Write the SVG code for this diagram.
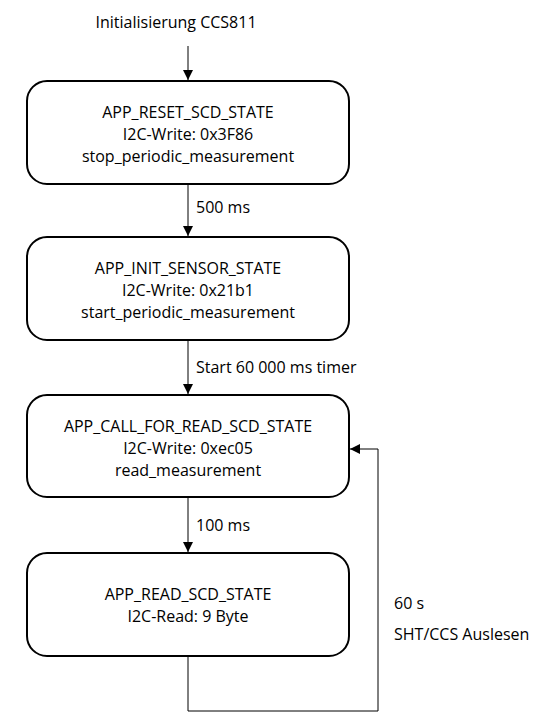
<svg xmlns="http://www.w3.org/2000/svg" width="540" height="726" viewBox="0 0 540 726">
<style>
text{font-family:"Open Sans","Liberation Sans",Arial,sans-serif;font-size:16px;fill:#000}
.c{text-anchor:middle}
.box{fill:#fff;stroke:#000;stroke-width:2}
.ln{fill:none;stroke:#000;stroke-width:1}
</style>
<defs>
<marker id="ah" viewBox="0 0 10 10" refX="10" refY="5" markerWidth="10" markerHeight="10" markerUnits="userSpaceOnUse" orient="auto">
<path d="M0,0 L10,5 L0,10 z" fill="#000"/>
</marker>
</defs>
<rect width="540" height="726" fill="#fff"/>
<text class="c" x="176" y="28">Initialisierung CCS811</text>
<g id="connectors">
<line class="ln" x1="188" y1="46" x2="188" y2="80" marker-end="url(#ah)"/>
<line class="ln" x1="188" y1="185" x2="188" y2="236" marker-end="url(#ah)"/>
<line class="ln" x1="188" y1="341" x2="188" y2="394" marker-end="url(#ah)"/>
<line class="ln" x1="188" y1="498" x2="188" y2="552" marker-end="url(#ah)"/>
<polyline class="ln" points="188,657 188,711 378,711 378,449 350,449" marker-end="url(#ah)"/>
<text x="196" y="213">500 ms</text>
<text x="196" y="373">Start 60 000 ms timer</text>
<text x="196" y="531">100 ms</text>
<text x="394" y="609">60 s</text>
<text x="394" y="640">SHT/CCS Auslesen</text>
</g>
<g id="reset">
<rect class="box" x="27" y="81" width="322" height="103" rx="20"/>
<text class="c" x="188" y="118">APP_RESET_SCD_STATE</text>
<text class="c" x="188" y="140">I2C-Write: 0x3F86</text>
<text class="c" x="188" y="162">stop_periodic_measurement</text>
</g>
<g id="init">
<rect class="box" x="27" y="237" width="322" height="103" rx="20"/>
<text class="c" x="188" y="274">APP_INIT_SENSOR_STATE</text>
<text class="c" x="188" y="296">I2C-Write: 0x21b1</text>
<text class="c" x="188" y="318">start_periodic_measurement</text>
</g>
<g id="call">
<rect class="box" x="27" y="395" width="322" height="102" rx="20"/>
<text class="c" x="188" y="432">APP_CALL_FOR_READ_SCD_STATE</text>
<text class="c" x="188" y="454">I2C-Write: 0xec05</text>
<text class="c" x="188" y="476">read_measurement</text>
</g>
<g id="read">
<rect class="box" x="27" y="553" width="322" height="103" rx="20"/>
<text class="c" x="188" y="600">APP_READ_SCD_STATE</text>
<text class="c" x="188" y="622">I2C-Read: 9 Byte</text>
</g>
</svg>
